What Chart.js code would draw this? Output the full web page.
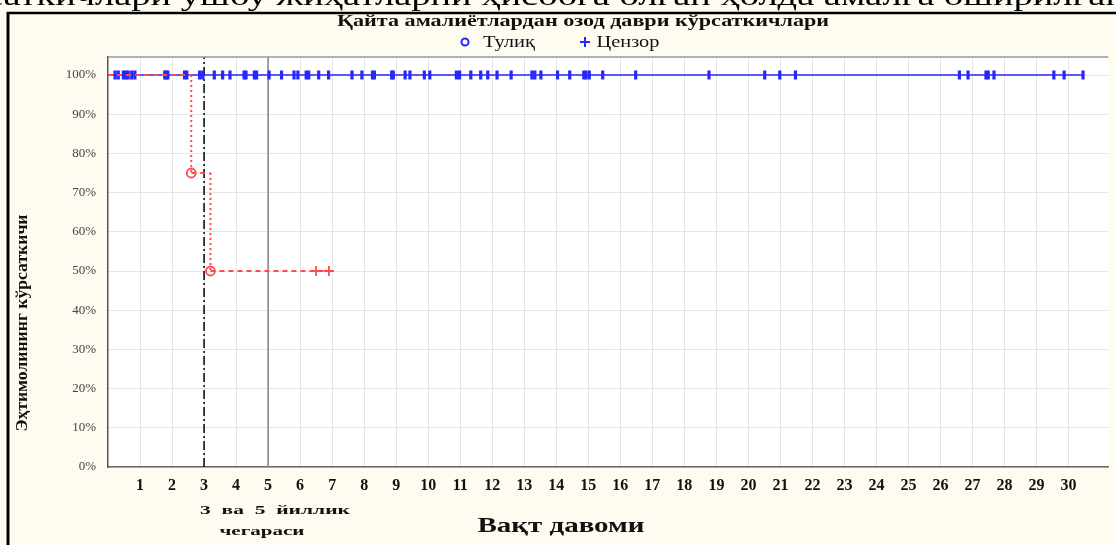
<!DOCTYPE html>
<html><head><meta charset="utf-8">
<script src="https://cdn.jsdelivr.net/npm/chart.js@4/dist/chart.umd.min.js"></script>
<style>html,body{margin:0;padding:0;background:#fefbf0;overflow:hidden}#wrap{position:relative;width:1116px;height:545px}</style>
</head><body><div id="wrap"><canvas id="c" width="1116" height="545"></canvas></div>
<script>
const chartTitle = "Қайта амалиётлардан озод даври кўрсаткичлари";
const legendLabels = ["Тулиқ", "Цензор"];
const yAxisTitle = "Эҳтимолининг кўрсаткичи";
const xAxisTitle = "Вақт давоми";
const boundaryNote = ["3  ва  5  йиллик", "чегараси"];
const pageText = "саткичлари ушбу жиҳатларни ҳисобга олган ҳолда амалга оширилган";

const xTicks = [1,2,3,4,5,6,7,8,9,10,11,12,13,14,15,16,17,18,19,20,21,22,23,24,25,26,27,28,29,30];
const yTicks = [0,0.1,0.2,0.3,0.4,0.5,0.6,0.7,0.8,0.9,1.0];

const blueLineTimes = [0, 30.45];
const blueLineSurvival = [1, 1];
const blueCensorTimes = [0.22,0.32,0.48,0.56,0.63,0.74,0.84,1.77,1.82,1.87,2.39,2.46,2.86,2.96,3.32,3.58,3.81,4.25,4.31,4.57,4.64,5.03,5.42,5.81,5.93,6.19,6.27,6.58,6.89,7.62,7.93,8.26,8.32,8.86,8.91,9.28,9.43,9.88,10.05,10.88,10.98,11.33,11.64,11.86,12.15,12.59,13.24,13.33,13.52,14.04,14.42,14.86,14.93,15.03,15.45,16.48,18.77,20.51,20.98,21.47,26.59,26.86,27.42,27.49,27.67,29.54,29.86,30.45];

const redStepTimes = [0, 2.6, 2.6, 3.2, 3.2, 6.9];
const redStepSurvival = [1, 1, 0.75, 0.75, 0.5, 0.5];
const redEventTimes = [2.6, 3.2];
const redEventSurvival = [0.75, 0.5];
const redCensorTimes = [6.5, 6.9];
const redCensorSurvival = [0.5, 0.5];
const boundaryYears = [3, 5];

const BLUE = '#2626ff';
const RED = '#ff4a4a';
const Y_MAX = 1.046;
const X_MAX = 31.24;

const pts = (xs, ys) => xs.map((x, i) => ({x, y: ys[i]}));

function drawFit(ctx, text, cx, base, font, width, color) {
  ctx.save();
  ctx.font = font;
  ctx.fillStyle = color || '#000';
  ctx.textAlign = 'center';
  ctx.textBaseline = 'alphabetic';
  const w = ctx.measureText(text).width;
  const sx = width / w;
  ctx.translate(cx, base);
  ctx.scale(sx, 1);
  ctx.fillText(text, 0, 0);
  ctx.restore();
}

const decor = {
  id: 'decor',
  beforeDraw(chart) {
    const ctx = chart.ctx, a = chart.chartArea;
    ctx.save();
    ctx.fillStyle = '#fefbf0';
    ctx.fillRect(0, 0, chart.width, chart.height);
    ctx.fillStyle = '#ffffff';
    ctx.fillRect(a.left, a.top, a.right - a.left, a.bottom - a.top);
    ctx.beginPath(); ctx.rect(0, 0, chart.width, 12); ctx.clip();
    drawFit(ctx, pageText, 556, 5, '28px "Liberation Serif"', 1140, '#000');
    ctx.restore();
    ctx.save();
    ctx.strokeStyle = '#000';
    ctx.lineWidth = 2.5;
    ctx.beginPath(); ctx.moveTo(7, 13); ctx.lineTo(1116, 13); ctx.stroke();
    ctx.lineWidth = 3;
    ctx.beginPath(); ctx.moveTo(8, 12); ctx.lineTo(8, 545); ctx.stroke();
    ctx.restore();
  },
  afterDraw(chart) {
    const ctx = chart.ctx, a = chart.chartArea;
    ctx.save();
    ctx.strokeStyle = '#999';
    ctx.lineWidth = 1.5;
    ctx.beginPath(); ctx.moveTo(a.left, a.top); ctx.lineTo(a.right, a.top); ctx.stroke();
    ctx.restore();
    drawFit(ctx, chartTitle, 583, 26, 'bold 17px "Liberation Serif"', 492, '#111');
    ctx.save();
    ctx.strokeStyle = BLUE; ctx.lineWidth = 2;
    ctx.beginPath(); ctx.arc(465, 42, 3.5, 0, Math.PI * 2); ctx.stroke();
    ctx.beginPath(); ctx.moveTo(580, 42); ctx.lineTo(590, 42); ctx.moveTo(585, 37); ctx.lineTo(585, 47); ctx.stroke();
    ctx.restore();
    drawFit(ctx, legendLabels[0], 509, 47, '16px "Liberation Serif"', 52, '#111');
    drawFit(ctx, legendLabels[1], 628, 47, '16px "Liberation Serif"', 63, '#111');
    ctx.save();
    ctx.translate(27, 323);
    ctx.rotate(-Math.PI / 2);
    drawFit(ctx, yAxisTitle, 0, 0, 'bold 17px "Liberation Serif"', 217, '#111');
    ctx.restore();
    drawFit(ctx, xAxisTitle, 561, 532, 'bold 22px "Liberation Serif"', 167, '#111');
    drawFit(ctx, boundaryNote[0], 275, 514, 'bold 13px "Liberation Serif"', 150, '#111');
    drawFit(ctx, boundaryNote[1], 262, 535, 'bold 13px "Liberation Serif"', 85, '#111');
  }
};

new Chart(document.getElementById('c'), {
  type: 'scatter',
  data: {
    datasets: [
      { label: 'b3', data: pts([boundaryYears[0], boundaryYears[0]], [0, Y_MAX]), showLine: true, pointRadius: 0,
        borderColor: '#111', borderWidth: 1.6, borderDash: [9, 3, 2, 3], order: 10 },
      { label: 'b5', data: pts([boundaryYears[1], boundaryYears[1]], [0, Y_MAX]), showLine: true, pointRadius: 0,
        borderColor: '#8a8a8a', borderWidth: 1.6, order: 9 },
      { label: 'blueLine', data: pts(blueLineTimes, blueLineSurvival), showLine: true, pointRadius: 0,
        borderColor: BLUE, borderWidth: 1.6, order: 8 },
      { label: 'blueCensor', data: blueCensorTimes.map(x => ({x, y: 1})), showLine: false,
        pointStyle: 'line', rotation: 90, pointRadius: 4.5, borderColor: BLUE, backgroundColor: BLUE, borderWidth: 3.2, order: 7 },
      { label: 'redStep', data: pts(redStepTimes, redStepSurvival), showLine: true, pointRadius: 0,
        borderColor: RED, borderWidth: 2, borderDash: [5, 4],
        segment: { borderDash: c => (c.p0.parsed.x === c.p1.parsed.x ? [2, 3] : [5, 4]) }, order: 3 },
      { label: 'redEvent', data: pts(redEventTimes, redEventSurvival), showLine: false,
        pointStyle: 'circle', pointRadius: 4.5, borderColor: RED, backgroundColor: 'rgba(255,255,255,0)', borderWidth: 1.8, order: 2 },
      { label: 'redCensor', data: pts(redCensorTimes, redCensorSurvival), showLine: false,
        pointStyle: 'cross', pointRadius: 5, borderColor: RED, borderWidth: 1.8, order: 1 }
    ]
  },
  options: {
    responsive: false,
    animation: false,
    devicePixelRatio: 1,
    layout: { padding: { top: 57, right: 2, left: 0, bottom: 0 } },
    plugins: { legend: { display: false }, title: { display: false }, tooltip: { enabled: false } },
    scales: {
      x: {
        type: 'linear', min: 0, max: X_MAX,
        afterBuildTicks: s => { s.ticks = xTicks.map(v => ({ value: v })); },
        afterFit: s => { s.height = 78; },
        grid: { color: '#e6e6e6', drawTicks: false, lineWidth: 1 },
        border: { color: '#666', width: 1.5 },
        ticks: { color: '#111', font: { family: 'Liberation Serif', size: 16, weight: 'bold' }, padding: 9, maxRotation: 0, autoSkip: false }
      },
      y: {
        min: 0, max: Y_MAX,
        afterBuildTicks: s => { s.ticks = yTicks.map(v => ({ value: v })); },
        afterFit: s => { s.width = 108; },
        grid: { color: '#e6e6e6', drawTicks: false, lineWidth: 1 },
        border: { color: '#555', width: 1.5 },
        ticks: { color: '#444', font: { family: 'Liberation Serif', size: 13 }, padding: 12,
          callback: v => Math.round(v * 100) + '%' }
      }
    }
  },
  plugins: [decor]
});
</script></body></html>
